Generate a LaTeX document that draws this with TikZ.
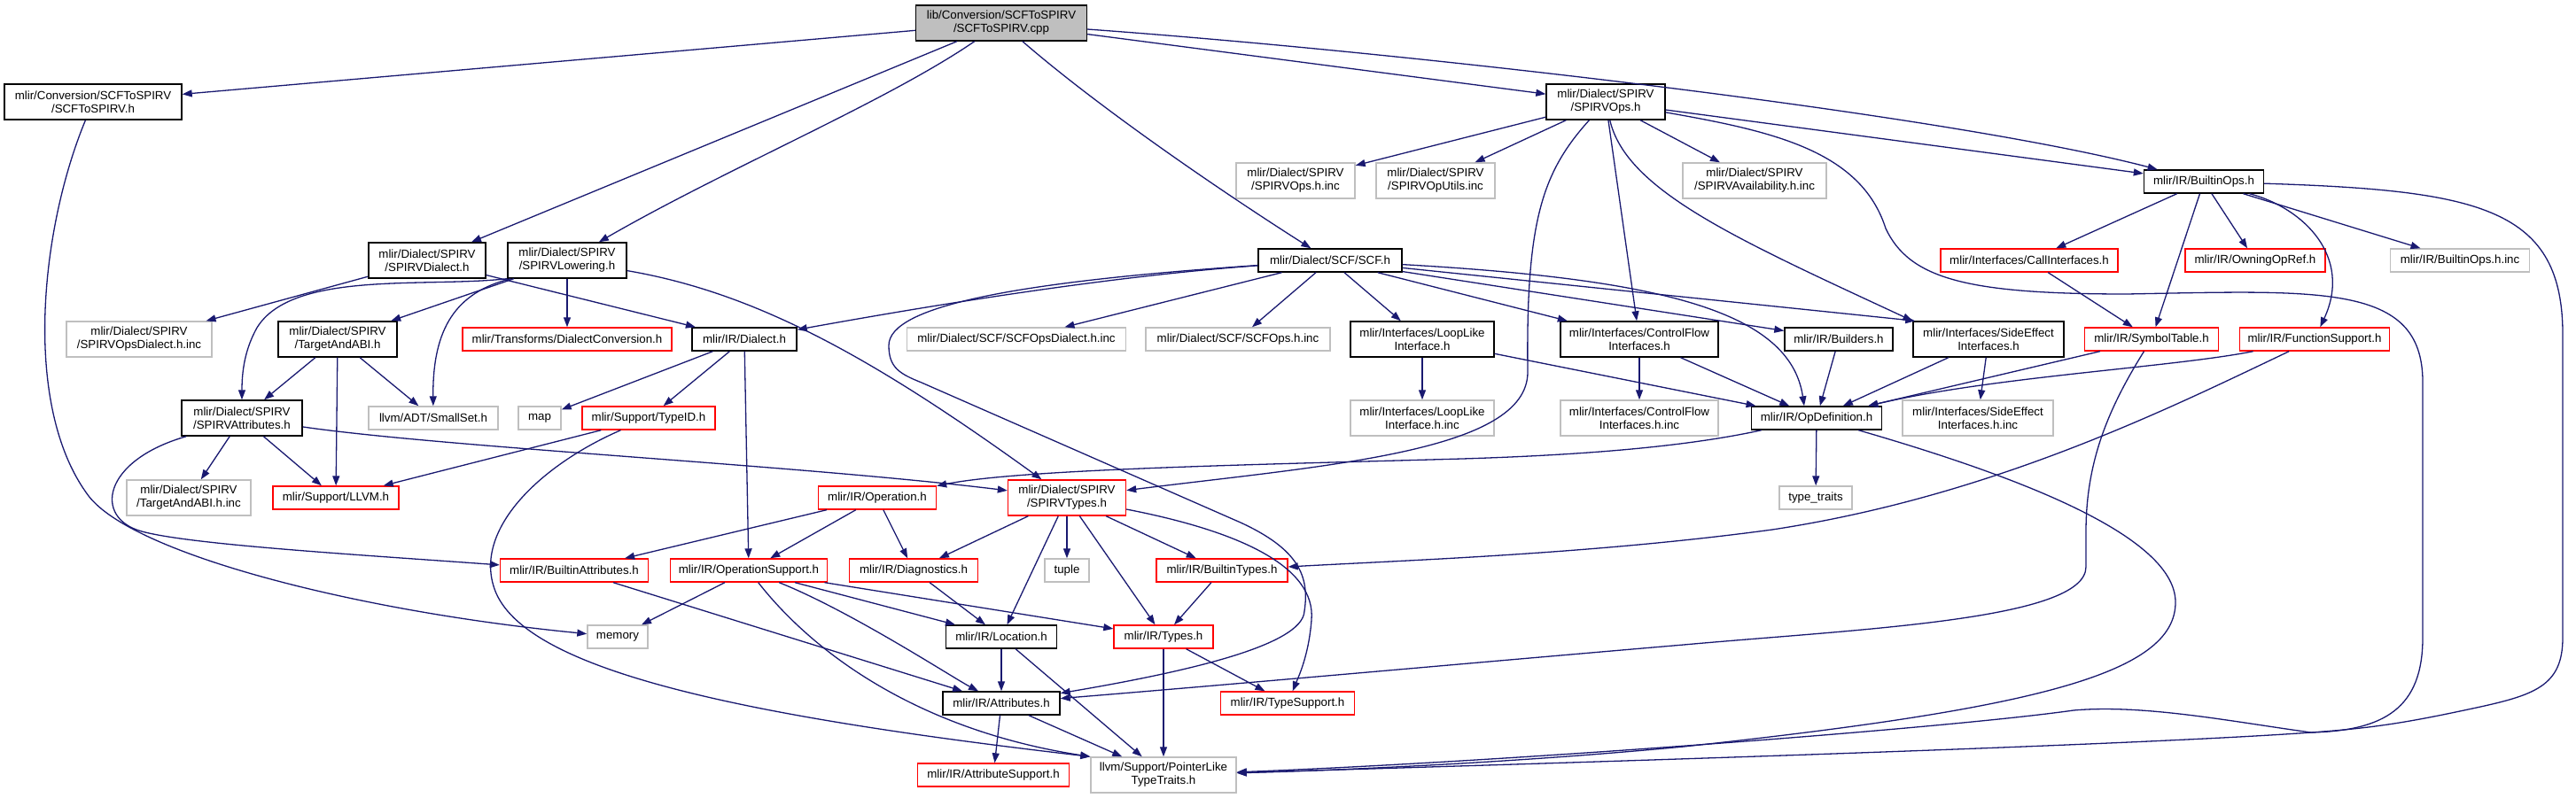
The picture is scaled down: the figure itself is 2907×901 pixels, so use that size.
\documentclass[tikz,border=0pt]{standalone}
\usepackage{fontspec}
\setmainfont{Liberation Sans}
\usetikzlibrary{arrows.meta}
\definecolor{edgec}{HTML}{191970}
\definecolor{grayb}{HTML}{BFBFBF}
\begin{document}
\begin{tikzpicture}[x=1pt,y=-1pt,
  box/.style={rectangle, line width=1.4pt, inner xsep=2pt, inner ysep=2pt, minimum height=26pt, align=center, font=\fontsize{13.3}{15}\selectfont, text=black},
  bk/.style={box, draw=black},
  rd/.style={box, draw=red},
  gy/.style={box, draw=grayb},
  topn/.style={box, draw=black, fill=grayb},
  two/.style={minimum height=40pt},
  edge/.style={draw=edgec, line width=1.3pt, -{Triangle[length=11pt,width=8pt]}}]
\useasboundingbox (0,0) rectangle (2907,901);

% nodes
\node[topn, two, minimum width=193pt] (cpp) at (1130,26) {lib/Conversion/SCFToSPIRV\\/SCFToSPIRV.cpp};
\node[bk, two, minimum width=200pt] (hdr) at (105,115) {mlir/Conversion/SCFToSPIRV\\/SCFToSPIRV.h};
\node[bk, two, minimum width=132pt] (spvdialect) at (482,294) {mlir/Dialect/SPIRV\\/SPIRVDialect.h};
\node[bk, two, minimum width=134pt] (spvlowering) at (640,294) {mlir/Dialect/SPIRV\\/SPIRVLowering.h};
\node[gy, two, minimum width=164pt] (spvopsdialectinc) at (157,383) {mlir/Dialect/SPIRV\\/SPIRVOpsDialect.h.inc};
\node[bk, two, minimum width=134pt] (targetabi) at (381,383) {mlir/Dialect/SPIRV\\/TargetAndABI.h};
\node[rd, minimum width=236pt] (dialectconv) at (640,383) {mlir/Transforms/DialectConversion.h};
\node[bk, minimum width=118pt] (irdialect) at (840,383) {mlir/IR/Dialect.h};
\node[bk, two, minimum width=136pt] (spvattr) at (273,472) {mlir/Dialect/SPIRV\\/SPIRVAttributes.h};
\node[gy, minimum width=146pt] (smallset) at (489,472) {llvm/ADT/SmallSet.h};
\node[gy, minimum width=48pt] (map) at (609,472) {map};
\node[rd, minimum width=150pt] (typeid) at (732,472) {mlir/Support/TypeID.h};
\node[gy, two, minimum width=140pt] (targetabiinc) at (213,562) {mlir/Dialect/SPIRV\\/TargetAndABI.h.inc};
\node[rd, minimum width=142pt] (llvm) at (379,562) {mlir/Support/LLVM.h};
\node[rd, minimum width=133pt] (operation) at (990,562) {mlir/IR/Operation.h};
\node[rd, two, minimum width=133pt] (spvtypes) at (1204,562) {mlir/Dialect/SPIRV\\/SPIRVTypes.h};
\node[rd, minimum width=167pt] (builtinattr) at (648,644) {mlir/IR/BuiltinAttributes.h};
\node[rd, minimum width=177pt] (opsupport) at (845,644) {mlir/IR/OperationSupport.h};
\node[rd, minimum width=145pt] (diagnostics) at (1031,644) {mlir/IR/Diagnostics.h};
\node[gy, minimum width=50pt] (tuple) at (1204,644) {tuple};
\node[rd, minimum width=148pt] (builtintypes) at (1379,644) {mlir/IR/BuiltinTypes.h};
\node[gy, minimum width=68pt] (memory) at (697,719) {memory};
\node[bk, minimum width=125pt] (location) at (1130,719) {mlir/IR/Location.h};
\node[rd, minimum width=112pt] (types) at (1313,719) {mlir/IR/Types.h};
\node[bk, minimum width=132pt] (attributes) at (1130,794) {mlir/IR/Attributes.h};
\node[rd, minimum width=151pt] (typesupport) at (1453,794) {mlir/IR/TypeSupport.h};
\node[rd, minimum width=171pt] (attrsupport) at (1121,875) {mlir/IR/AttributeSupport.h};
\node[gy, two, minimum width=164pt] (pointerlike) at (1313,875) {llvm/Support/PointerLike\\TypeTraits.h};
\node[bk, two, minimum width=134pt] (spvops) at (1812,115) {mlir/Dialect/SPIRV\\/SPIRVOps.h};
\node[gy, two, minimum width=134pt] (spvopsinc) at (1462,204) {mlir/Dialect/SPIRV\\/SPIRVOps.h.inc};
\node[gy, two, minimum width=134pt] (spvoputils) at (1620,204) {mlir/Dialect/SPIRV\\/SPIRVOpUtils.inc};
\node[gy, two, minimum width=162pt] (spvavail) at (1980,204) {mlir/Dialect/SPIRV\\/SPIRVAvailability.h.inc};
\node[bk, minimum width=135pt] (builtinops) at (2487,205) {mlir/IR/BuiltinOps.h};
\node[bk, minimum width=162pt] (scf) at (1501,294) {mlir/Dialect/SCF/SCF.h};
\node[rd, minimum width=200pt] (callif) at (2290,294) {mlir/Interfaces/CallInterfaces.h};
\node[rd, minimum width=158pt] (owning) at (2545,294) {mlir/IR/OwningOpRef.h};
\node[gy, minimum width=157pt] (builtinopsinc) at (2776,294) {mlir/IR/BuiltinOps.h.inc};
\node[gy, minimum width=247pt] (scfopsdialectinc) at (1147,383) {mlir/Dialect/SCF/SCFOpsDialect.h.inc};
\node[gy, minimum width=208pt] (scfopsinc) at (1397,383) {mlir/Dialect/SCF/SCFOps.h.inc};
\node[bk, two, minimum width=162pt] (looplike) at (1605,383) {mlir/Interfaces/LoopLike\\Interface.h};
\node[bk, two, minimum width=178pt] (controlflow) at (1850,383) {mlir/Interfaces/ControlFlow\\Interfaces.h};
\node[bk, minimum width=122pt] (builders) at (2075,383) {mlir/IR/Builders.h};
\node[bk, two, minimum width=170pt] (sideeffect) at (2244,383) {mlir/Interfaces/SideEffect\\Interfaces.h};
\node[rd, minimum width=151pt] (symboltable) at (2428,383) {mlir/IR/SymbolTable.h};
\node[rd, minimum width=169pt] (funcsupport) at (2612,383) {mlir/IR/FunctionSupport.h};
\node[gy, two, minimum width=162pt] (looplikeinc) at (1605,472) {mlir/Interfaces/LoopLike\\Interface.h.inc};
\node[gy, two, minimum width=178pt] (controlflowinc) at (1850,472) {mlir/Interfaces/ControlFlow\\Interfaces.h.inc};
\node[bk, minimum width=147pt] (opdef) at (2050,472) {mlir/IR/OpDefinition.h};
\node[gy, two, minimum width=170pt] (sideeffectinc) at (2232,472) {mlir/Interfaces/SideEffect\\Interfaces.h.inc};
\node[gy, minimum width=82pt] (typetraits) at (2049,562) {type\_traits};

% edges from cpp
\draw[edge] (cpp) -- (hdr);
\draw[edge] (cpp) -- (spvdialect);
\draw[edge] (cpp) .. controls (1000,115) and (820,190) .. (spvlowering);
\draw[edge] (cpp) .. controls (1250,130) and (1400,230) .. (scf);
\draw[edge] (cpp) -- (spvops);
\draw[edge] (cpp) .. controls (1600,60) and (2200,130) .. (builtinops);

% SCFToSPIRV.h
\draw[edge] (hdr) .. controls (45,260) and (25,460) .. (100,560) .. controls (150,625) and (400,690) .. (memory);

% SPIRVOps.h
\draw[edge] (spvops) -- (spvopsinc);
\draw[edge] (spvops) -- (spvoputils);
\draw[edge] (spvops) -- (spvavail);
\draw[edge] (spvops) -- (builtinops);
\draw[edge] (spvops) .. controls (1740,195) and (1722,250) .. (1724,420) .. controls (1724,510) and (1500,525) .. (spvtypes);
\draw[edge] (spvops) -- (controlflow);
\draw[edge] (spvops) .. controls (1835,215) and (1960,270) .. (sideeffect.north west);
\draw[edge] (spvops) .. controls (2000,148) and (2100,170) .. (2128,258) .. controls (2155,315) and (2220,332) .. (2400,332) .. controls (2620,328) and (2733,320) .. (2734,430) -- (2734,720) .. controls (2734,800) and (2690,825) .. (2608,827) .. controls (2520,815) and (2420,795) .. (2340,802) .. controls (2200,822) and (1700,860) .. (pointerlike);

% BuiltinOps.h
\draw[edge] (builtinops) -- (callif);
\draw[edge] (builtinops) -- (symboltable);
\draw[edge] (builtinops) -- (owning);
\draw[edge] (builtinops) .. controls (2600,235) and (2655,290) .. (funcsupport);
\draw[edge] (builtinops) -- (builtinopsinc);
\draw[edge] (builtinops) .. controls (2800,215) and (2893,235) .. (2892,380) -- (2892,720) .. controls (2892,775) and (2860,785) .. (2790,800) .. controls (2720,815) and (2680,822) .. (2608,827) .. controls (2400,842) and (1750,862) .. (pointerlike);
\draw[edge] (callif) -- (symboltable);

% SCF.h
\draw[edge] (scf) -- (scfopsdialectinc);
\draw[edge] (scf) -- (scfopsinc);
\draw[edge] (scf) -- (looplike);
\draw[edge] (scf) -- (controlflow);
\draw[edge] (scf) -- (builders);
\draw[edge] (scf) -- ([xshift=3pt]sideeffect.north west);
\draw[edge] (scf) .. controls (1870,315) and (2020,350) .. ([xshift=-14pt]opdef.north);
\draw[edge] (scf) .. controls (1250,312) and (1050,345) .. (irdialect);
\draw[edge] (scf) .. controls (1150,318) and (1003,345) .. (1003,390) .. controls (1003,415) and (1015,422) .. (1040,432) -- (1400,590) .. controls (1465,620) and (1478,650) .. (1472,690) .. controls (1470,730) and (1330,760) .. (attributes);

% SPIRVDialect.h / SPIRVLowering.h
\draw[edge] (spvdialect) -- (spvopsdialectinc);
\draw[edge] (spvdialect) -- (irdialect);
\draw[edge] (spvlowering) -- (targetabi);
\draw[edge] (spvlowering) -- (dialectconv);
\draw[edge] ([xshift=4pt]spvlowering.south west) .. controls (515,330) and (488,370) .. (smallset);
\draw[edge] (spvlowering.south west) .. controls (480,325) and (330,305) .. (290,370) .. controls (276,395) and (273,420) .. (spvattr);
\draw[edge] (spvlowering) .. controls (850,330) and (980,400) .. (spvtypes);

% TargetAndABI.h / SPIRVAttributes.h
\draw[edge] (targetabi) -- (spvattr);
\draw[edge] (targetabi) -- (llvm);
\draw[edge] (targetabi) -- (smallset);
\draw[edge] (spvattr) -- (targetabiinc);
\draw[edge] (spvattr) -- (llvm);
\draw[edge] (spvattr) .. controls (500,505) and (900,525) .. (spvtypes);
\draw[edge] ([xshift=6pt]spvattr.south west) .. controls (115,520) and (105,585) .. (160,600) .. controls (215,615) and (400,626) .. (builtinattr);

% Dialect.h / TypeID.h
\draw[edge] (irdialect) -- (map);
\draw[edge] (irdialect) -- (typeid);
\draw[edge] (irdialect) -- (opsupport);
\draw[edge] (typeid) -- (llvm);
\draw[edge] (typeid) .. controls (610,525) and (530,600) .. (560,670) .. controls (600,760) and (850,810) .. (pointerlike.north west);

% Operation.h / OperationSupport.h / BuiltinAttributes.h
\draw[edge] (operation) -- (builtinattr);
\draw[edge] (operation) -- (opsupport);
\draw[edge] (operation) -- (diagnostics);
\draw[edge] (opsupport) -- (memory);
\draw[edge] (opsupport) -- (location);
\draw[edge] (opsupport) -- (types);
\draw[edge] (opsupport) .. controls (960,690) and (1075,765) .. (attributes);
\draw[edge] (opsupport) .. controls (920,740) and (1040,825) .. (pointerlike.north west);
\draw[edge] (builtinattr) -- (attributes);

% SPIRVTypes.h
\draw[edge] (spvtypes) -- (diagnostics);
\draw[edge] (spvtypes) -- (location);
\draw[edge] (spvtypes) -- (tuple);
\draw[edge] (spvtypes) -- (types);
\draw[edge] (spvtypes) -- (builtintypes);
\draw[edge] (spvtypes) .. controls (1400,600) and (1485,640) .. (1480,700) .. controls (1477,740) and (1465,765) .. (typesupport);

% lower IR headers
\draw[edge] (diagnostics) -- (location);
\draw[edge] (builtintypes) -- (types);
\draw[edge] (location) -- (attributes);
\draw[edge] (location) -- (pointerlike);
\draw[edge] (types) -- (typesupport);
\draw[edge] (types) -- (pointerlike);
\draw[edge] (attributes) -- (attrsupport);
\draw[edge] (attributes) -- (pointerlike);

% interfaces -> OpDefinition
\draw[edge] (looplike) -- (looplikeinc);
\draw[edge] (looplike) -- (opdef);
\draw[edge] (controlflow) -- (controlflowinc);
\draw[edge] (controlflow) -- (opdef);
\draw[edge] (builders) -- (opdef);
\draw[edge] (sideeffect) -- (opdef);
\draw[edge] (sideeffect) -- (sideeffectinc);
\draw[edge] (symboltable) -- (opdef);
\draw[edge] (funcsupport) .. controls (2450,415) and (2250,425) .. (opdef);

% OpDefinition.h
\draw[edge] (opdef) -- (typetraits);
\draw[edge] (opdef) .. controls (1900,505) and (1780,514) .. (1650,518) .. controls (1400,525) and (1150,530) .. (operation);
\draw[edge] (opdef) .. controls (2250,530) and (2455,600) .. (2455,680) .. controls (2455,760) and (2300,800) .. (1900,843) .. controls (1700,862) and (1500,870) .. (pointerlike);

% SymbolTable.h / FunctionSupport.h long edges
\draw[edge] (symboltable) .. controls (2380,460) and (2354,520) .. (2354,600) -- (2354,640) .. controls (2354,700) and (2100,710) .. (1900,728) .. controls (1700,745) and (1400,772) .. (attributes);
\draw[edge] (funcsupport) .. controls (2450,460) and (2250,560) .. (2000,598) .. controls (1800,625) and (1600,632) .. (builtintypes);
\end{tikzpicture}
\end{document}
